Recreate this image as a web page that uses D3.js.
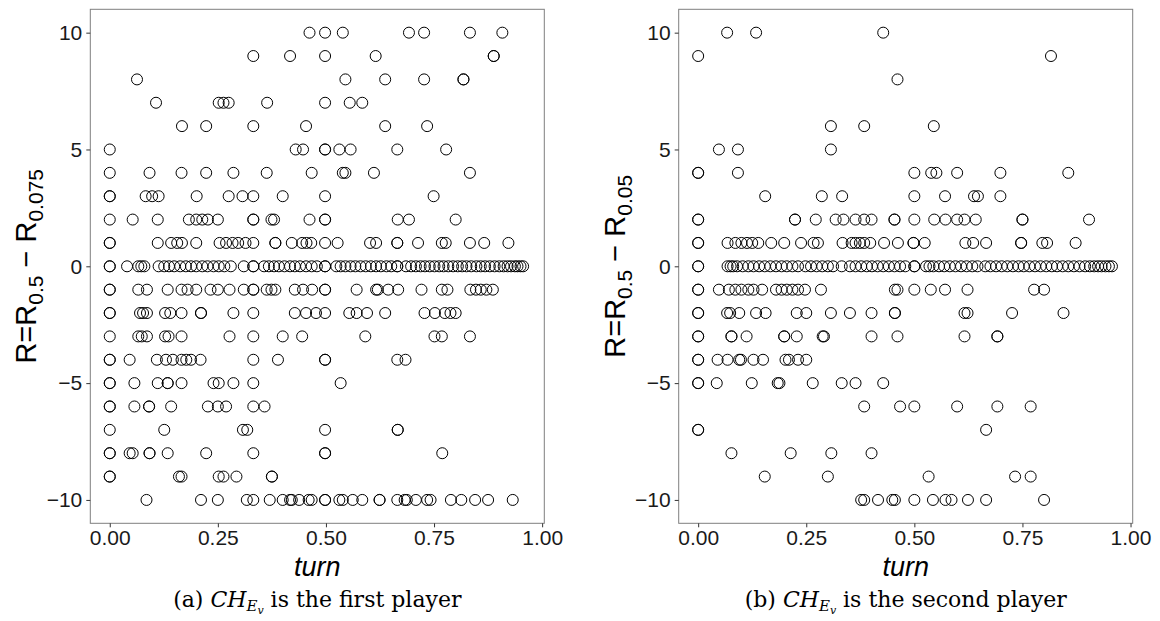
<!DOCTYPE html>
<html>
<head>
<meta charset="utf-8">
<script src="https://cdn.jsdelivr.net/npm/d3@7"></script>
<style>
  html, body { margin: 0; padding: 0; background: #fff; }
  svg { display: block; }
</style>
</head>
<body>
<svg id="chart" width="1160" height="621"></svg>
<script>
const xTicks = [0, 0.25, 0.5, 0.75, 1];
const yTicks = [-10, -5, 0, 5, 10];

// [R, [turn values]] ; repeated turn values are overlapping points
const firstPlayer = [
  [10, [0.462, 0.498, 0.539, 0.692, 0.727, 0.833, 0.908]],
  [9, [0.332, 0.417, 0.498, 0.615, 0.888, 0.888]],
  [8, [0.063, 0.545, 0.637, 0.727, 0.818, 0.818]],
  [7, [0.107, 0.252, 0.263, 0.275, 0.364, 0.498, 0.555, 0.584]],
  [6, [0.167, 0.223, 0.332, 0.454, 0.637, 0.734]],
  [5, [0, 0.430, 0.447, 0.498, 0.498, 0.531, 0.557, 0.665, 0.778]],
  [4, [0, 0.092, 0.166, 0.223, 0.286, 0.363, 0.467, 0.539, 0.545, 0.611, 0.833]],
  [3, [0, 0, 0.083, 0.098, 0.113, 0.201, 0.275, 0.307, 0.332, 0.400, 0.498, 0.749]],
  [2, [0, 0.053, 0.111, 0.183, 0.200, 0.214, 0.227, 0.250, 0.332, 0.332, 0.374, 0.380,
       0.462, 0.498, 0.498, 0.666, 0.692, 0.800]],
  [1, [0, 0, 0.111, 0.142, 0.156, 0.167, 0.200, 0.254, 0.269, 0.284, 0.297, 0.314, 0.332,
       0.383, 0.383, 0.421, 0.445, 0.455, 0.466, 0.498, 0.527, 0.602, 0.616, 0.665, 0.665,
       0.713, 0.768, 0.777, 0.833, 0.866, 0.922]],
  [0, [0, 0, 0.040, 0.066, 0.073, 0.080, 0.113, 0.126, 0.137, 0.149, 0.163, 0.176, 0.188,
       0.200, 0.214, 0.226, 0.240, 0.252, 0.265, 0.280, 0.310, 0.332, 0.332, 0.357, 0.368,
       0.380, 0.391, 0.404, 0.417, 0.428, 0.440, 0.454, 0.467, 0.479, 0.498, 0.498, 0.524,
       0.534, 0.545, 0.557, 0.568, 0.580, 0.592, 0.604, 0.616, 0.627, 0.640, 0.651, 0.665,
       0.665, 0.685, 0.697, 0.708, 0.719, 0.729, 0.740, 0.751, 0.762, 0.772, 0.783, 0.794,
       0.805, 0.815, 0.825, 0.836, 0.848, 0.858, 0.868, 0.879, 0.890, 0.901, 0.911, 0.920,
       0.928, 0.937, 0.943, 0.950, 0.956]],
  [-1, [0, 0, 0.066, 0.086, 0.134, 0.166, 0.180, 0.200, 0.233, 0.250, 0.277, 0.310, 0.332,
        0.332, 0.363, 0.374, 0.383, 0.428, 0.447, 0.468, 0.498, 0.498, 0.571, 0.616, 0.620,
        0.644, 0.667, 0.721, 0.768, 0.781, 0.834, 0.847, 0.858, 0.871, 0.886]],
  [-2, [0, 0, 0.070, 0.077, 0.086, 0.128, 0.140, 0.166, 0.211, 0.211, 0.286, 0.332, 0.428,
        0.454, 0.477, 0.498, 0.554, 0.571, 0.595, 0.637, 0.728, 0.752, 0.775, 0.788, 0.800]],
  [-3, [0, 0.066, 0.074, 0.086, 0.128, 0.136, 0.166, 0.277, 0.332, 0.400, 0.445, 0.591,
        0.751, 0.768, 0.833]],
  [-4, [0, 0, 0.046, 0.109, 0.130, 0.146, 0.166, 0.177, 0.188, 0.210, 0.332, 0.389, 0.498,
        0.498, 0.665, 0.684]],
  [-5, [0, 0, 0.057, 0.111, 0.134, 0.134, 0.166, 0.240, 0.252, 0.286, 0.332, 0.534]],
  [-6, [0, 0, 0.057, 0.091, 0.091, 0.142, 0.227, 0.250, 0.269, 0.332, 0.358]],
  [-7, [0, 0.126, 0.308, 0.318, 0.498, 0.666, 0.666]],
  [-8, [0, 0, 0.046, 0.053, 0.092, 0.092, 0.134, 0.223, 0.332, 0.498, 0.498, 0.769]],
  [-9, [0, 0, 0.160, 0.166, 0.252, 0.263, 0.293, 0.375, 0.375]],
  [-10, [0.085, 0.211, 0.250, 0.317, 0.332, 0.370, 0.400, 0.417, 0.421, 0.438, 0.460, 0.467,
         0.498, 0.498, 0.531, 0.539, 0.562, 0.584, 0.624, 0.624, 0.665, 0.682, 0.687, 0.708,
         0.734, 0.742, 0.789, 0.813, 0.845, 0.875, 0.932]]
];

const secondPlayer = [
  [10, [0.067, 0.134, 0.428]],
  [9, [0, 0.816]],
  [8, [0.461]],
  [6, [0.307, 0.384, 0.545]],
  [5, [0.048, 0.092, 0.307]],
  [4, [0, 0, 0.092, 0.500, 0.539, 0.551, 0.599, 0.699, 0.856]],
  [3, [0.155, 0.286, 0.333, 0.500, 0.571, 0.638, 0.647, 0.699]],
  [2, [0, 0, 0.224, 0.224, 0.272, 0.318, 0.336, 0.364, 0.384, 0.401, 0.454, 0.454, 0.500,
       0.546, 0.572, 0.599, 0.616, 0.642, 0.750, 0.750, 0.904]],
  [1, [0, 0, 0.068, 0.086, 0.100, 0.113, 0.125, 0.139, 0.169, 0.199, 0.238, 0.267, 0.277,
       0.334, 0.355, 0.364, 0.374, 0.384, 0.398, 0.430, 0.462, 0.498, 0.498, 0.524, 0.618,
       0.636, 0.666, 0.747, 0.747, 0.796, 0.807, 0.873]],
  [0, [0, 0, 0.068, 0.075, 0.081, 0.090, 0.103, 0.116, 0.128, 0.141, 0.154, 0.167, 0.180,
       0.193, 0.205, 0.218, 0.231, 0.248, 0.261, 0.274, 0.287, 0.300, 0.312, 0.332, 0.351,
       0.364, 0.377, 0.390, 0.402, 0.415, 0.428, 0.441, 0.454, 0.467, 0.479, 0.500, 0.500,
       0.527, 0.535, 0.544, 0.557, 0.569, 0.582, 0.595, 0.608, 0.621, 0.634, 0.646, 0.664,
       0.676, 0.689, 0.702, 0.715, 0.728, 0.741, 0.753, 0.766, 0.779, 0.792, 0.805, 0.818,
       0.830, 0.843, 0.856, 0.869, 0.882, 0.895, 0.906, 0.916, 0.925, 0.933, 0.942, 0.950,
       0.957]],
  [-1, [0, 0, 0.048, 0.071, 0.086, 0.100, 0.116, 0.128, 0.148, 0.180, 0.193, 0.205, 0.218,
        0.231, 0.247, 0.284, 0.455, 0.461, 0.500, 0.538, 0.571, 0.623, 0.777, 0.800]],
  [-2, [0, 0, 0.067, 0.074, 0.095, 0.134, 0.156, 0.228, 0.250, 0.307, 0.351, 0.401, 0.455,
        0.455, 0.616, 0.623, 0.726, 0.845]],
  [-3, [0, 0, 0.077, 0.077, 0.112, 0.199, 0.199, 0.228, 0.288, 0.291, 0.401, 0.461, 0.616,
        0.692, 0.692]],
  [-4, [0, 0, 0.045, 0.068, 0.095, 0.099, 0.128, 0.150, 0.202, 0.210, 0.231, 0.250]],
  [-5, [0, 0, 0.043, 0.124, 0.184, 0.188, 0.265, 0.332, 0.364, 0.428]],
  [-6, [0.384, 0.467, 0.500, 0.599, 0.692, 0.769]],
  [-7, [0, 0, 0.666]],
  [-8, [0.077, 0.214, 0.308, 0.401]],
  [-9, [0.154, 0.300, 0.533, 0.733, 0.769]],
  [-10, [0.377, 0.384, 0.416, 0.449, 0.455, 0.500, 0.543, 0.572, 0.586, 0.624, 0.666, 0.800]]
];

const panels = [
  { rows: firstPlayer, left: 90.3, sub: "0.075", tag: "(a)", rest: " is the first player" },
  { rows: secondPlayer, left: 678.7, sub: "0.05", tag: "(b)", rest: " is the second player" }
];

const plotW = 454;
const plotTop = 9.3;
const plotBottom = 523.3;
const sans = "'Liberation Sans', Arial, Helvetica, sans-serif";
const serif = "'DejaVu Serif', 'Liberation Serif', serif";

const svg = d3.select("#chart");

const y = d3.scaleLinear().domain([-11, 11]).range([plotBottom, plotTop]);

panels.forEach(p => {
  const x = d3.scaleLinear().domain([-0.045, 1.005]).range([p.left, p.left + plotW]);
  const g = svg.append("g");

  const points = p.rows.flatMap(([r, turns]) => turns.map(t => ({ turn: t, r })));

  g.append("g")
    .attr("fill", "none")
    .attr("stroke", "#000")
    .attr("stroke-width", 1)
    .selectAll("circle")
    .data(points)
    .join("circle")
    .attr("cx", d => x(d.turn))
    .attr("cy", d => y(d.r))
    .attr("r", 5.5);

  g.append("rect")
    .attr("x", p.left)
    .attr("y", plotTop)
    .attr("width", plotW)
    .attr("height", plotBottom - plotTop)
    .attr("fill", "none")
    .attr("stroke", "#7f7f7f")
    .attr("stroke-width", 1);

  const yAxis = g.append("g")
    .attr("transform", `translate(${p.left},0)`)
    .call(d3.axisLeft(y).tickValues(yTicks).tickSize(4).tickPadding(4)
      .tickFormat(d => d < 0 ? "\u2212" + Math.abs(d) : d));
  const xAxis = g.append("g")
    .attr("transform", `translate(0,${plotBottom})`)
    .call(d3.axisBottom(x).tickValues(xTicks).tickSize(4).tickPadding(3)
      .tickFormat(d3.format(".2f")));

  [yAxis, xAxis].forEach(a => {
    a.select(".domain").remove();
    a.selectAll("line").attr("stroke", "#333");
    a.selectAll("text")
      .attr("fill", "#1a1a1a")
      .style("font-family", sans)
      .style("font-size", "21px");
  });

  // x title
  g.append("text")
    .attr("x", p.left + plotW / 2)
    .attr("y", 576)
    .attr("text-anchor", "middle")
    .style("font-family", sans)
    .style("font-style", "italic")
    .style("font-size", "27px")
    .text("turn");

  // y title
  const yt = g.append("text")
    .attr("transform", `translate(${p.left - 54},${(plotTop + plotBottom) / 2}) rotate(-90)`)
    .attr("text-anchor", "middle")
    .style("font-family", sans)
    .style("font-size", "29px");
  yt.append("tspan").text("R=R");
  yt.append("tspan").attr("dy", 7).style("font-size", "21px").text("0.5");
  yt.append("tspan").attr("dy", -7).text(" \u2212 R");
  yt.append("tspan").attr("dy", 7).style("font-size", "21px").text(p.sub);

  // caption
  const cap = g.append("text")
    .attr("x", p.left + plotW / 2)
    .attr("y", 607)
    .attr("text-anchor", "middle")
    .style("font-family", serif)
    .style("font-size", "22px");
  cap.append("tspan").text(p.tag + " ");
  cap.append("tspan").style("font-style", "italic").text("CH");
  cap.append("tspan").attr("dy", 4).style("font-style", "italic").style("font-size", "15px").text("E");
  cap.append("tspan").attr("dy", 3).style("font-style", "italic").style("font-size", "11px").text("v");
  cap.append("tspan").attr("dy", -7).text(p.rest);
});
</script>
</body>
</html>
